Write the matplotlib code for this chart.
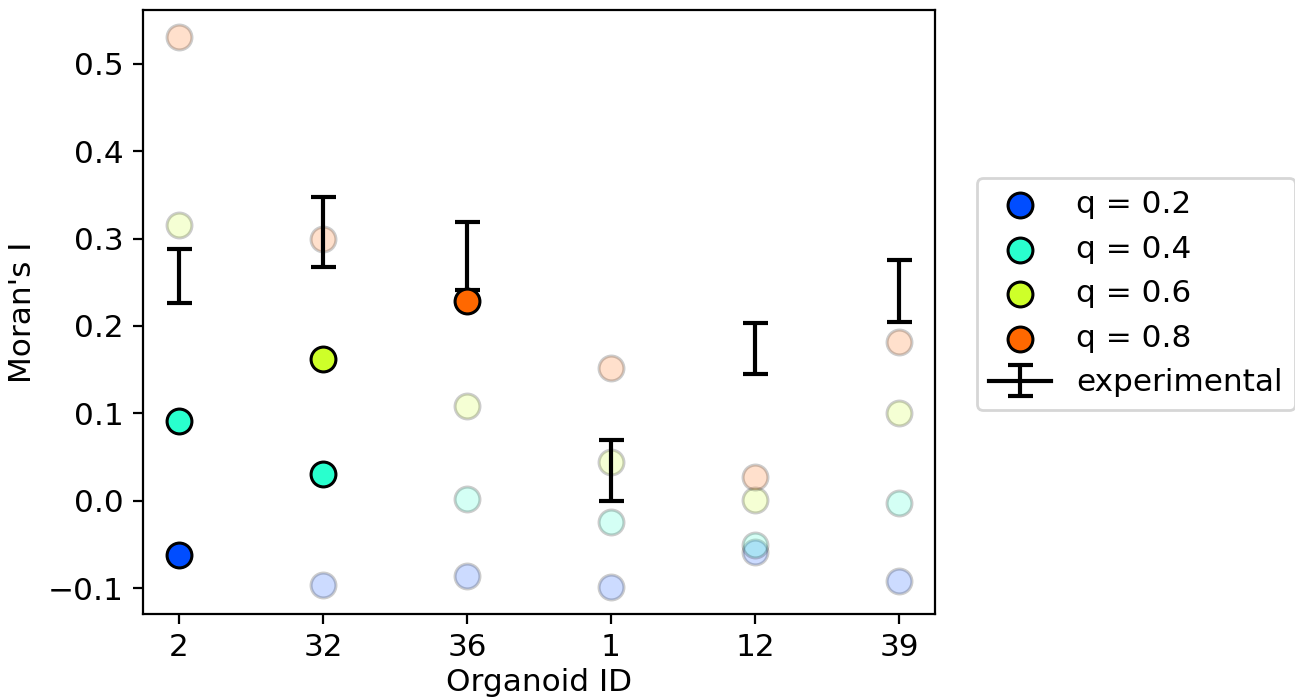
from matplotlib import pyplot as plt
import numpy as np

organoids = ['2', '32', '36', '1', '12', '39']
q_values = [0.2, 0.4, 0.6, 0.8]

# simulated Moran's I per q (rows) and organoid (columns)
sim_q02 = [-0.062, -0.096, -0.086, -0.098, -0.058, -0.092]
sim_q04 = [0.091, 0.031, 0.002, -0.024, -0.050, -0.002]
sim_q06 = [0.315, 0.162, 0.108, 0.045, 0.001, 0.100]
sim_q08 = [0.530, 0.299, 0.229, 0.152, 0.027, 0.182]

# best-fitting q for each organoid is drawn solid
best_q02 = [True, False, False, False, False, False]
best_q04 = [True, True, False, False, False, False]
best_q06 = [False, True, False, False, False, False]
best_q08 = [False, False, True, False, False, False]

exp_mean = [0.257, 0.308, 0.280, 0.035, 0.174, 0.240]
exp_err = [0.031, 0.040, 0.039, 0.035, 0.029, 0.036]

sims = [sim_q02, sim_q04, sim_q06, sim_q08]
bests = [best_q02, best_q04, best_q06, best_q08]

plt.rcParams['font.size'] = 11.2

fig = plt.figure(figsize=(6.475, 3.49), dpi=200)
ax = fig.add_axes([0.1104, 0.1203, 0.6116, 0.8654])

x = np.arange(len(organoids))
cmap = plt.get_cmap('jet')

for q, vals, best in zip(q_values, sims, bests):
    col = cmap(q)
    vals = np.array(vals)
    best = np.array(best)
    ax.scatter(x[~best], vals[~best], s=80, color=col, alpha=0.2,
               edgecolors='black', linewidths=1.1, zorder=2)
    ax.scatter(x[best], vals[best], s=80, color=col,
               edgecolors='black', linewidths=1.1, zorder=4,
               label=f'q = {q}')

for i in range(len(organoids)):
    ax.errorbar(x[i], exp_mean[i], yerr=exp_err[i], fmt='k-', lw=1.5,
                elinewidth=1.5, capsize=4.5, capthick=1.5, zorder=3,
                label='experimental' if i == 0 else None)

ax.set_xticks(x)
ax.set_xticklabels(organoids)
ax.set_xlabel('Organoid ID', labelpad=2)
ax.set_ylabel("Moran's I")
ax.legend(loc='center left', bbox_to_anchor=(1.033, 0.53))

plt.savefig('out.png', dpi=200)
